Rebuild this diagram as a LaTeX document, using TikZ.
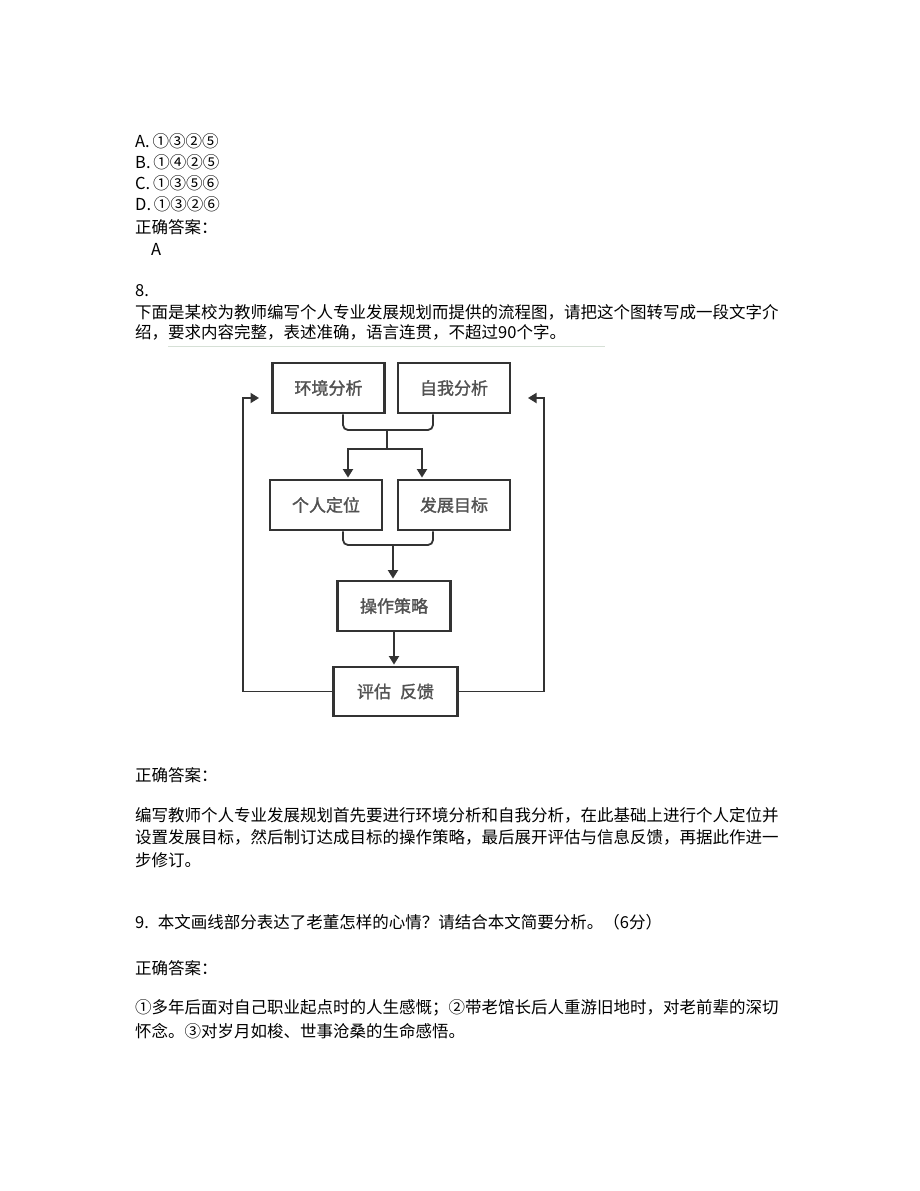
\documentclass[tikz,border=0pt]{standalone}
\usepackage{fontspec}
\newfontfamily\cjk{Noto Sans CJK SC}
\newfontfamily\cjkheavy[FakeBold=1.6]{Noto Sans CJK SC}
\usetikzlibrary{arrows.meta}

\tikzset{
  txtline/.style={anchor=west, inner sep=0pt, font=\cjk\fontsize{16.5}{20}\selectfont},
  chartbox/.style={draw=black!80, line width=2.8pt, minimum width=112pt, minimum height=50pt,
    inner sep=0pt, text=black!68, font=\cjkheavy\fontsize{17}{19}\selectfont},
  link/.style={draw=black!80, line width=1.8pt},
  flow/.style={link, -{Triangle[width=10pt,length=8.5pt]}, shorten >=1pt},
}

\begin{document}
\begin{tikzpicture}[x=1pt,y=-1pt]
\useasboundingbox (0,0) rectangle (920,1191);

% question 7 (tail)
\node[txtline] (qa) at (135,141) {A.\,①③②⑤};
\node[txtline] (qb) at (135,162) {B.\,①④②⑤};
\node[txtline] (qc) at (135,183) {C.\,①③⑤⑥};
\node[txtline] (qd) at (135,204) {D.\,①③②⑥};
\node[txtline] (ans7) at (135,227) {正确答案：};
\node[txtline] (ans7v) at (151,249) {A};

% question 8
\node[txtline] (q8) at (135,291) {8.};
\node[txtline] (q8a) at (135,312) {下面是某校为教师编写个人专业发展规划而提供的流程图，请把这个图转写成一段文字介};
\node[txtline] (q8b) at (135,332) {绍，要求内容完整，表述准确，语言连贯，不超过90个字。};
\coordinate (rulel) at (168,346);
\coordinate (ruler) at (605,346);
\draw[line width=0.8pt, draw={rgb,255:red,214;green,224;blue,214}] (rulel) -- (ruler);

% flow chart boxes
\node[chartbox] (env) at (328.5,388) {环境分析};
\node[chartbox] (self) at (454,388) {自我分析};
\node[chartbox] (pos) at (326,505) {个人定位};
\node[chartbox] (goal) at (454,505) {发展目标};
\node[chartbox, minimum width=113pt] (strat) at (394,606) {操作策略};
\node[chartbox, minimum width=124pt, minimum height=49pt] (eval) at (395.5,691.5) {评估\hspace{9pt}反馈};

% junctions
\coordinate (j1) at (387,430);
\coordinate (s1) at (387,449);
\coordinate (j2) at (393,545);

% first bracket and split
\draw[link, rounded corners=5pt] ([xshift=14.5pt]env.south) |- (j1) -| ([xshift=-21pt]self.south);
\draw[link] (j1) -- (s1);
\draw[flow] (s1) -| ([xshift=22pt]pos.north);
\draw[flow] (s1) -| ([xshift=-32pt]goal.north);

% second bracket
\draw[link, rounded corners=5pt] ([xshift=17pt]pos.south) |- (j2) -| ([xshift=-21pt]goal.south);
\draw[flow] (j2) -- (j2 |- strat.north);
\draw[flow] (strat.south) -- (strat.south |- eval.north);

% feedback loops
\coordinate (lt) at (243,398);
\coordinate (ltip) at (260,398);
\coordinate (rt) at (544,398);
\coordinate (rtip) at (527,398);
\draw[flow] (eval.west) -| (lt) -- (ltip);
\draw[flow] (eval.east) -| (rt) -- (rtip);

% answer 8
\node[txtline] (ans8) at (135,775) {正确答案：};
\node[txtline] (a8a) at (135,815) {编写教师个人专业发展规划首先要进行环境分析和自我分析，在此基础上进行个人定位并};
\node[txtline] (a8b) at (135,837.5) {设置发展目标，然后制订达成目标的操作策略，最后展开评估与信息反馈，再据此作进一};
\node[txtline] (a8c) at (135,860) {步修订。};

% question 9
\node[txtline] (q9) at (135,922) {9.\hspace{9pt}本文画线部分表达了老董怎样的心情？请结合本文简要分析。（6分）};
\node[txtline] (ans9) at (135,968) {正确答案：};
\node[txtline] (a9a) at (135,1008) {①多年后面对自己职业起点时的人生感慨；②带老馆长后人重游旧地时，对老前辈的深切};
\node[txtline] (a9b) at (135,1031) {怀念。③对岁月如梭、世事沧桑的生命感悟。};
\end{tikzpicture}
\end{document}
